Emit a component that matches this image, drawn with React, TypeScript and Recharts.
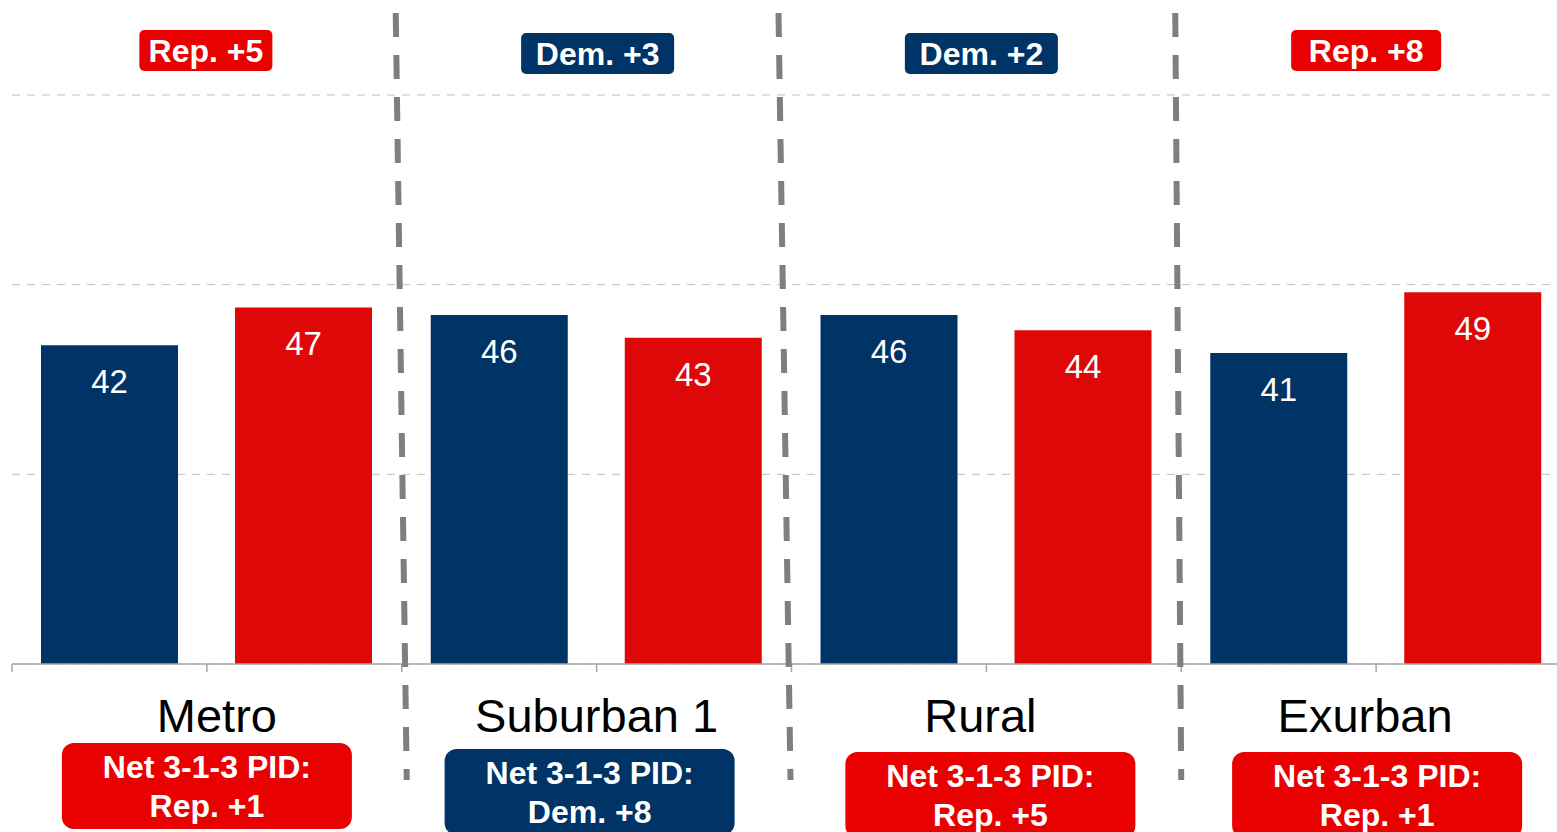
import React from "react";
import {
  BarChart,
  Bar,
  XAxis,
  YAxis,
  CartesianGrid,
  LabelList,
} from "recharts";

// values
const categories = ["Metro", "Suburban 1", "Rural", "Exurban"];
const demValues = [42, 46, 46, 41];
const repValues = [47, 43, 44, 49];
const voteLeads = ["Rep. +5", "Dem. +3", "Dem. +2", "Rep. +8"];
const pidLeads = ["Rep. +1", "Dem. +8", "Rep. +5", "Rep. +1"];
const yTicks = [0, 25, 50, 75];

const data = categories.map((name, i) => ({
  name,
  dem: demValues[i],
  rep: repValues[i],
  lead: voteLeads[i],
  pid: pidLeads[i],
}));

const FONT = "'Liberation Sans', Arial, Helvetica, sans-serif";
const NAVY = "#003366";
const RED = "#df0808";
const BOX_RED = "#e90000";
const AXIS = "#a6a6a6";

// hand-placed slide decorations: small nudges per group (px)
const nameShift = [10, 0, -6, -11];
const leadShift = [-1, 1, -5, -10];
const leadWidth = [133, 153, 153, 150];
const leadTop = [-642, -639, -639, -642];
const pidShift = [0, -7, 4, 1];
const pidTop = [71, 77, 80, 80];
// slanted separator left of each group: [top dx, bottom dx] from the band edge
const sepSlant = [null, [-6, 5], [-13, -1], [-6, 0]] as const;

const partyColor = (label: string) => (label.startsWith("Dem") ? NAVY : BOX_RED);

function CategoryTick(props: any) {
  const { x, y, payload } = props;
  const i = categories.indexOf(payload.value);
  const row = data[i];
  const half = payload?.offset || 195;
  const leadW = leadWidth[i];
  const lx = x + leadShift[i];
  const px = x + pidShift[i];
  const slant = sepSlant[i];
  return (
    <g>
      {/* boundary tick marks */}
      <line x1={x - half} x2={x - half} y1={y - 8} y2={y} stroke={AXIS} strokeWidth={1.5} />
      {i === data.length - 1 && (
        <line x1={x + half} x2={x + half} y1={y - 8} y2={y} stroke={AXIS} strokeWidth={1.5} />
      )}

      {/* dashed group separator */}
      {slant && (
        <line
          x1={x - half + slant[0]}
          y1={y - 659}
          x2={x - half + slant[1]}
          y2={y + 108}
          stroke="#7f7f7f"
          strokeWidth={6}
          strokeDasharray="24 18"
        />
      )}

      {/* lead box above the pair */}
      <rect x={lx - leadW / 2} y={y + leadTop[i]} width={leadW} height={41} rx={5} fill={partyColor(row.lead)} />
      <text
        x={lx}
        y={y + leadTop[i] + 32}
        textAnchor="middle"
        fill="#fff"
        fontSize={32}
        fontWeight="bold"
        fontFamily={FONT}
      >
        {row.lead}
      </text>

      {/* category name */}
      <text x={x + nameShift[i]} y={y + 60} textAnchor="middle" fill="#000" fontSize={47} fontFamily={FONT}>
        {row.name}
      </text>

      {/* party ID box */}
      <rect x={px - 145} y={y + pidTop[i]} width={290} height={86} rx={12} fill={partyColor(row.pid)} />
      <text
        x={px}
        y={y + pidTop[i] + 35}
        textAnchor="middle"
        fill="#fff"
        fontSize={32}
        fontWeight="bold"
        fontFamily={FONT}
      >
        Net 3-1-3 PID:
      </text>
      <text
        x={px}
        y={y + pidTop[i] + 74}
        textAnchor="middle"
        fill="#fff"
        fontSize={32}
        fontWeight="bold"
        fontFamily={FONT}
      >
        {row.pid}
      </text>
    </g>
  );
}

const renderValue = (p: any) => (
  <text
    x={Number(p.x) + Number(p.width) / 2}
    y={Number(p.y) + 48}
    textAnchor="middle"
    fill="#fff"
    fontSize={33}
    fontFamily={FONT}
  >
    {p.value}
  </text>
);

export default function App() {
  return (
    <div
      style={{
        position: "absolute",
        left: 0,
        top: 0,
        width: 1557,
        height: 832,
        overflow: "hidden",
        background: "#fff",
      }}
    >
      <BarChart
        width={1572}
        height={832}
        data={data}
        margin={{ top: 95, right: 1, left: 12, bottom: 0 }}
        barCategoryGap={29}
        barGap={57}
      >
        <CartesianGrid vertical={false} stroke="#bfbfbf" strokeDasharray="8 7" />
        <XAxis
          dataKey="name"
          height={168}
          interval={0}
          axisLine={{ stroke: AXIS, strokeWidth: 1.5 }}
          tickLine={{ stroke: AXIS, strokeWidth: 1.5 }}
          tickSize={8}
          tickMargin={0}
          tick={<CategoryTick />}
        />
        <YAxis hide domain={[0, 75]} ticks={yTicks} />
        <Bar dataKey="dem" fill={NAVY} isAnimationActive={false}>
          <LabelList dataKey="dem" content={renderValue} />
        </Bar>
        <Bar dataKey="rep" fill={RED} isAnimationActive={false}>
          <LabelList dataKey="rep" content={renderValue} />
        </Bar>
      </BarChart>
    </div>
  );
}
